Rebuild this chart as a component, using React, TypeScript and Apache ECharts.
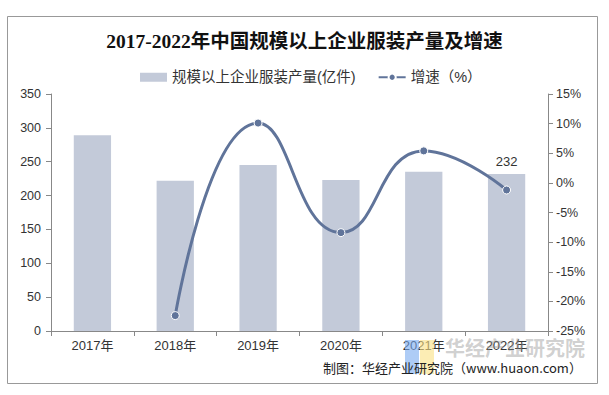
import React, { useEffect, useRef } from "react";
import * as echarts from "echarts";

const categories = ["2017年", "2018年", "2019年", "2020年", "2021年", "2022年"];
const outputValues = [289, 222, 245, 223, 235, 232];
const growthValues: (number | null)[] = [null, -22.4, 10.1, -8.4, 5.4, -1.2];
const title = "2017-2022年中国规模以上企业服装产量及增速";
const barName = "规模以上企业服装产量(亿件)";
const lineName = "增速（%）";
const sourceText = "制图：华经产业研究院（www.huaon.com）";
const watermarkText = "华经产业研究院";

export default function App() {
  const ref = useRef<HTMLDivElement>(null);
  useEffect(() => {
    if (!ref.current) return;
    document.body.style.margin = "0";
    const chart = echarts.init(ref.current, null, { renderer: "svg" });
    const fontFamily = "Liberation Sans, Arial, Noto Sans CJK SC, sans-serif";
    chart.setOption({
      animation: false,
      backgroundColor: "#fff",
      title: {
        text: title,
        left: "center",
        top: 27,
        textStyle: {
          fontSize: 19.5,
          fontWeight: "bold",
          color: "#111",
          fontFamily: "Liberation Serif, Noto Sans CJK SC, serif",
        },
      },
      legend: {
        top: 65,
        left: 135,
        itemGap: 22,
        itemWidth: 27,
        itemHeight: 9,
        textStyle: { fontSize: 14.5, color: "#333", fontFamily },
        data: [
          { name: barName, icon: "rect" },
          { name: lineName },
        ],
      },
      grid: { left: 51, right: 61, top: 94, bottom: 64, containLabel: false },
      xAxis: {
        type: "category",
        data: categories,
        axisLine: { lineStyle: { color: "#888" } },
        axisTick: { show: true, alignWithLabel: false, lineStyle: { color: "#888" } },
        axisLabel: { color: "#333", fontSize: 13, fontFamily, margin: 8 },
      },
      yAxis: [
        {
          type: "value",
          min: 0,
          max: 350,
          interval: 50,
          axisLine: { show: true, lineStyle: { color: "#888" } },
          axisTick: { show: true, lineStyle: { color: "#888" } },
          splitLine: { show: false },
          axisLabel: { color: "#333", fontSize: 12.5, fontFamily, margin: 10 },
        },
        {
          type: "value",
          min: -25,
          max: 15,
          interval: 5,
          axisLine: { show: true, lineStyle: { color: "#888" } },
          axisTick: { show: true, lineStyle: { color: "#888" } },
          splitLine: { show: false },
          axisLabel: { color: "#333", fontSize: 12.5, fontFamily, formatter: "{value}%", margin: 8 },
        },
      ],
      series: [
        {
          name: barName,
          type: "bar",
          data: outputValues.map((v, i) => ({
            value: v,
            label: i === outputValues.length - 1 ? { show: true } : { show: false },
          })),
          barWidth: "45%",
          itemStyle: { color: "#c3cad9" },
          label: { position: "top", color: "#333", fontSize: 13, fontFamily, distance: 6 },
        },
        {
          name: lineName,
          type: "line",
          yAxisIndex: 1,
          data: growthValues,
          smooth: true,
          symbol: "circle",
          symbolSize: 8,
          lineStyle: { color: "#60749a", width: 3 },
          itemStyle: { color: "#60749a", borderColor: "#fff", borderWidth: 1 },
          connectNulls: false,
        },
      ],
      graphic: [
        {
          type: "rect",
          shape: { x: 7.5, y: 16.5, width: 590, height: 367 },
          style: { fill: "none", stroke: "#999", lineWidth: 1 },
          z: -1,
          silent: true,
        },
        {
          type: "text",
          left: 445,
          top: 337,
          style: {
            text: watermarkText,
            fill: "rgba(150,150,150,0.45)",
            font: "bold 20px Noto Sans CJK SC, sans-serif",
          },
          z: 10,
        },
        {
          type: "rect",
          shape: { x: 405, y: 340, width: 14, height: 34 },
          style: { fill: "rgba(120,170,240,0.6)" },
          z: 9,
        },
        {
          type: "rect",
          shape: { x: 420, y: 340, width: 14, height: 34 },
          style: { fill: "rgba(250,225,130,0.6)" },
          z: 9,
        },
        {
          type: "text",
          left: 323,
          top: 361,
          style: {
            text: sourceText,
            fill: "#222",
            font: "13px Noto Sans CJK SC, sans-serif",
          },
          z: 11,
        },
      ],
    });
    return () => chart.dispose();
  }, []);
  return <div ref={ref} style={{ width: 609, height: 395 }} />;
}
